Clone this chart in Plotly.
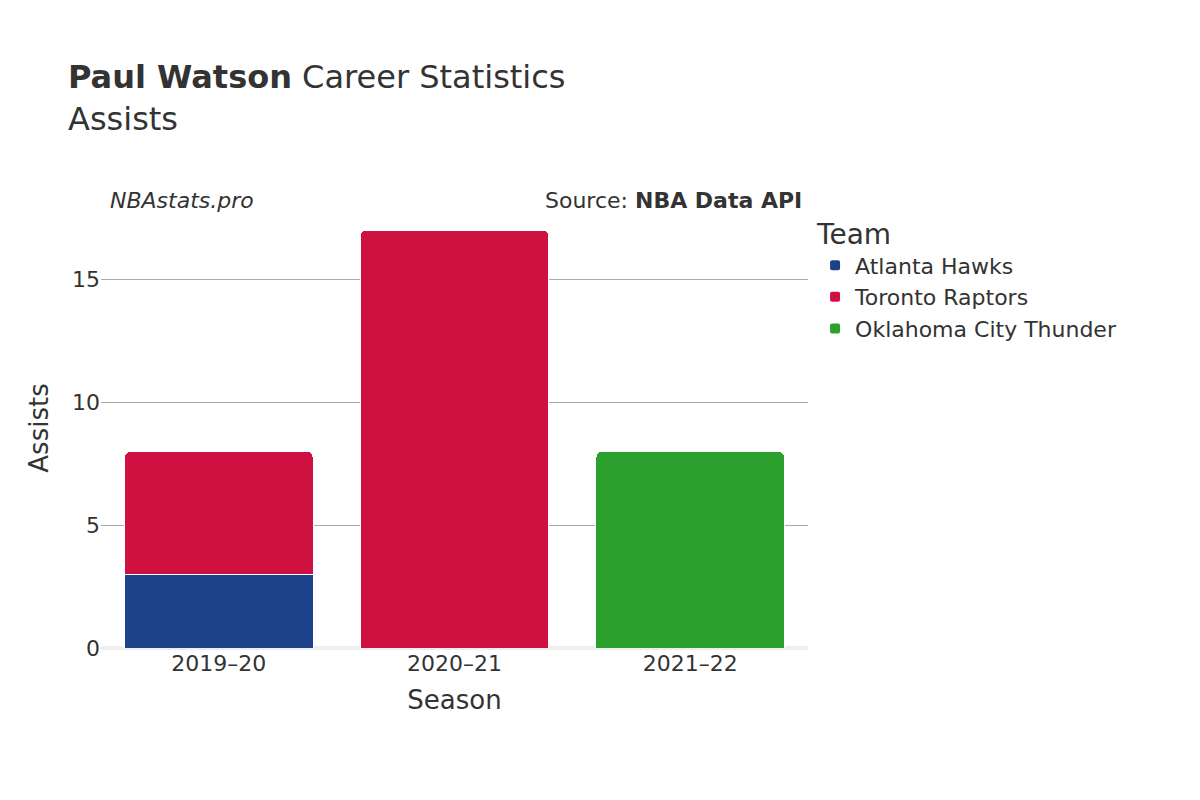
import plotly.graph_objects as go

seasons = ["2019–20", "2020–21", "2021–22"]
teams = ["Atlanta Hawks", "Toronto Raptors", "Oklahoma City Thunder"]
colors = ["#1d428a", "#ce1141", "#2ca02c"]
assists = {
    "Atlanta Hawks": [3, None, None],
    "Toronto Raptors": [5, 17, None],
    "Oklahoma City Thunder": [None, None, 8],
}

fig = go.Figure()
for team, color in zip(teams, colors):
    fig.add_trace(go.Bar(
        x=seasons, y=assists[team], name=team,
        marker=dict(color=color, line=dict(color="white", width=1)),
    ))

fig.update_layout(
    barmode="stack",
    barcornerradius=6,
    width=1200, height=800,
    font=dict(family="DejaVu Sans", size=22, color="#333"),
    plot_bgcolor="white", paper_bgcolor="white",
    title=dict(text="<b>Paul Watson</b> Career Statistics<br>Assists",
               x=0.05, y=0.9, font=dict(size=32)),
    margin=dict(l=93, r=400, t=200, b=160),
    legend=dict(title=dict(text="Team", font=dict(size=28)), x=1.01, y=1.0,
                traceorder="normal", font=dict(size=22), itemsizing="constant"),
    xaxis=dict(title=dict(text="Season", font=dict(size=26))),
    yaxis=dict(title=dict(text="Assists", font=dict(size=26)), gridcolor="#aaa",
               zeroline=True, zerolinecolor="#eee", zerolinewidth=4, dtick=5),
    bargap=0.2,
    annotations=[
        dict(text="<i>NBAstats.pro</i>", xref="paper", yref="paper", x=0.01, y=1.05,
             showarrow=False, xanchor="left", font=dict(size=22)),
        dict(text="Source: <b>NBA Data API</b>", xref="paper", yref="paper", x=0.995, y=1.05,
             showarrow=False, xanchor="right", font=dict(size=22)),
    ],
)
fig.write_html("out.html")
